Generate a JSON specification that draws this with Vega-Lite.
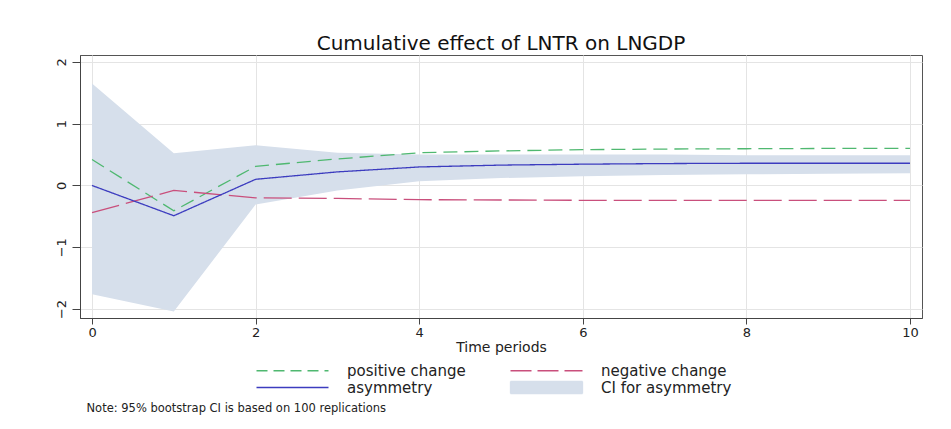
{
  "$schema": "https://vega.github.io/schema/vega-lite/v6.json",
  "padding": {"left": 54, "top": 33, "right": 10, "bottom": 10},
  "background": "white",
  "config": {
    "font": "DejaVu Sans",
    "view": {"stroke": "#555555", "strokeWidth": 1},
    "axis": {"gridColor": "#e4e4e4", "gridWidth": 1, "domainColor": "#444444", "tickColor": "#444444", "labelColor": "#222222", "titleColor": "#222222", "labelFont": "DejaVu Sans", "titleFont": "DejaVu Sans", "titleFontWeight": "normal"}
  },
  "title": {"text": "Note: 95% bootstrap CI is based on 100 replications", "orient": "bottom", "anchor": "start", "fontSize": 11.5, "fontWeight": "normal", "font": "DejaVu Sans", "color": "#222222", "offset": 6, "dx": 32},
  "datasets": {
    "lines": [
      {"t": 0, "series": "positive change", "value": 0.42},
      {"t": 1, "series": "positive change", "value": -0.41},
      {"t": 2, "series": "positive change", "value": 0.31},
      {"t": 3, "series": "positive change", "value": 0.43},
      {"t": 4, "series": "positive change", "value": 0.53},
      {"t": 5, "series": "positive change", "value": 0.56},
      {"t": 6, "series": "positive change", "value": 0.58},
      {"t": 7, "series": "positive change", "value": 0.59},
      {"t": 8, "series": "positive change", "value": 0.595},
      {"t": 9, "series": "positive change", "value": 0.6},
      {"t": 10, "series": "positive change", "value": 0.6},
      {"t": 0, "series": "negative change", "value": -0.44},
      {"t": 1, "series": "negative change", "value": -0.08},
      {"t": 2, "series": "negative change", "value": -0.2},
      {"t": 3, "series": "negative change", "value": -0.21},
      {"t": 4, "series": "negative change", "value": -0.23},
      {"t": 5, "series": "negative change", "value": -0.235},
      {"t": 6, "series": "negative change", "value": -0.24},
      {"t": 7, "series": "negative change", "value": -0.24},
      {"t": 8, "series": "negative change", "value": -0.24},
      {"t": 9, "series": "negative change", "value": -0.24},
      {"t": 10, "series": "negative change", "value": -0.24},
      {"t": 0, "series": "asymmetry", "value": 0.0},
      {"t": 1, "series": "asymmetry", "value": -0.49},
      {"t": 2, "series": "asymmetry", "value": 0.1},
      {"t": 3, "series": "asymmetry", "value": 0.22},
      {"t": 4, "series": "asymmetry", "value": 0.3},
      {"t": 5, "series": "asymmetry", "value": 0.33},
      {"t": 6, "series": "asymmetry", "value": 0.345},
      {"t": 7, "series": "asymmetry", "value": 0.355},
      {"t": 8, "series": "asymmetry", "value": 0.36},
      {"t": 9, "series": "asymmetry", "value": 0.36},
      {"t": 10, "series": "asymmetry", "value": 0.36}
    ],
    "ci": [
      {"t": 0, "lo": -1.76, "hi": 1.65},
      {"t": 1, "lo": -2.04, "hi": 0.52},
      {"t": 2, "lo": -0.31, "hi": 0.65},
      {"t": 3, "lo": -0.08, "hi": 0.53},
      {"t": 4, "lo": 0.07, "hi": 0.5},
      {"t": 5, "lo": 0.12, "hi": 0.5},
      {"t": 6, "lo": 0.15, "hi": 0.5},
      {"t": 7, "lo": 0.17, "hi": 0.5},
      {"t": 8, "lo": 0.18, "hi": 0.49},
      {"t": 9, "lo": 0.19, "hi": 0.49},
      {"t": 10, "lo": 0.2, "hi": 0.49}
    ]
  },
  "vconcat": [
    {
      "width": 842,
      "height": 263,
      "title": {"text": "Cumulative effect of LNTR on LNGDP", "fontSize": 20, "fontWeight": "normal", "font": "DejaVu Sans", "color": "#111111", "anchor": "middle", "offset": 1},
      "layer": [
        {
          "data": {"name": "ci"},
          "mark": {"type": "area", "opacity": 1},
          "encoding": {
            "x": {"field": "t", "type": "quantitative"},
            "y": {"field": "lo", "type": "quantitative"},
            "y2": {"field": "hi"},
            "color": {"datum": "CI for asymmetry", "type": "nominal"}
          }
        },
        {
          "data": {"name": "lines"},
          "mark": {"type": "line", "strokeWidth": 1.3},
          "encoding": {
            "x": {"field": "t", "type": "quantitative", "title": "Time periods",
              "scale": {"domain": [-0.147, 10.147], "nice": false, "zero": false},
              "axis": {"values": [0, 2, 4, 6, 8, 10], "format": "d", "grid": true, "tickSize": 6, "labelFontSize": 13, "labelPadding": 2, "titleFontSize": 14, "titlePadding": 1}},
            "y": {"field": "value", "type": "quantitative", "title": null,
              "scale": {"domain": [-2.146, 2.113], "nice": false, "zero": false},
              "axis": {"values": [-2, -1, 0, 1, 2], "format": "d", "grid": true, "tickSize": 8, "labelAngle": 270, "labelAlign": "center", "labelBaseline": "bottom", "labelFontSize": 13, "labelPadding": 4}},
            "color": {"field": "series", "type": "nominal",
              "scale": {"domain": ["positive change", "asymmetry", "negative change", "CI for asymmetry"], "range": ["#4fb870", "#3c3cbf", "#c94f7c", "#d6dfeb"]},
              "legend": {
                "title": null, "orient": "none", "legendX": 172, "legendY": 308, "columns": 2, "columnPadding": 40, "rowPadding": -1, "padding": 0,
                "symbolSize": 100, "symbolOffset": 33, "labelOffset": 47, "labelFontSize": 15, "labelFont": "DejaVu Sans", "labelColor": "#222222", "labelLimit": 300,
                "encode": {"symbols": {"update": {
                  "shape": {"signal": "datum.value === 'CI for asymmetry' ? 'M-7.2,-1.2H7.2V1.2H-7.2Z' : 'M-7.2,0H7.2'"},
                  "fill": {"signal": "datum.value === 'CI for asymmetry' ? '#d6dfeb' : 'transparent'"},
                  "stroke": {"signal": "datum.value === 'positive change' ? '#4fb870' : datum.value === 'negative change' ? '#c94f7c' : datum.value === 'asymmetry' ? '#3c3cbf' : 'transparent'"},
                  "strokeDash": {"signal": "datum.value === 'positive change' ? [11,6] : datum.value === 'negative change' ? [21,6] : [1,0]"},
                  "strokeWidth": {"value": 1.3},
                  "opacity": {"value": 1}
                }}}
              }},
            "strokeDash": {"field": "series", "type": "nominal", "legend": null,
              "scale": {"domain": ["positive change", "negative change", "asymmetry"], "range": [[14, 7], [28, 7], [1, 0]]}}
          }
        }
      ]
    }
  ]
}
